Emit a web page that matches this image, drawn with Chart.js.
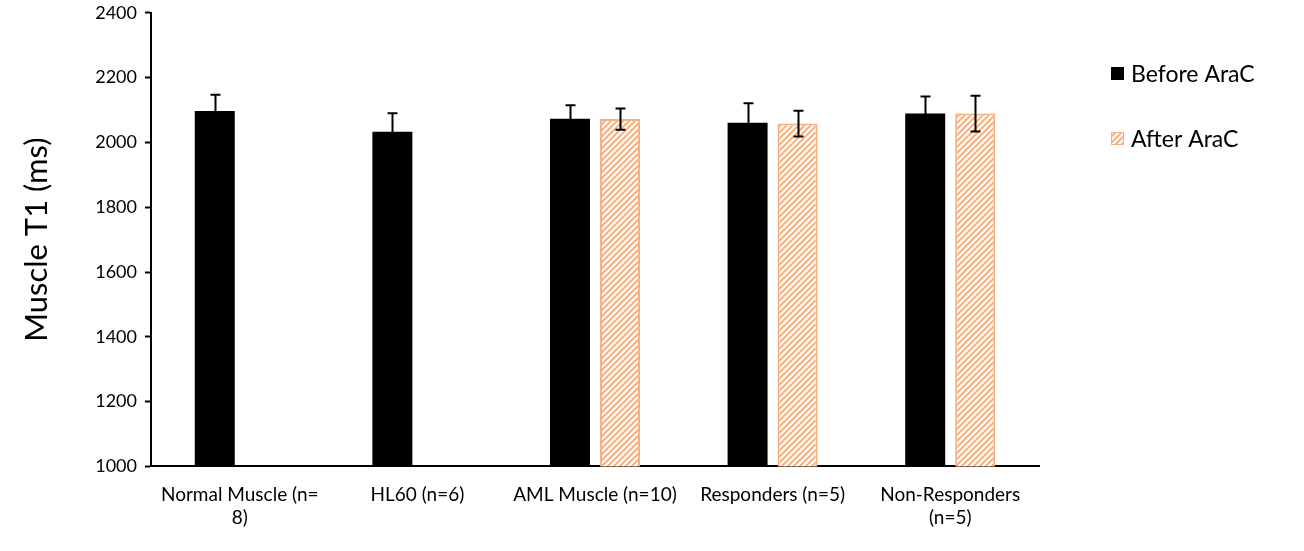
<!DOCTYPE html>
<html>
<head>
<meta charset="utf-8">
<script src="https://cdn.jsdelivr.net/npm/chart.js@4"></script>
<style>
  html, body { margin: 0; padding: 0; background: #fff; overflow: hidden; }
  #wrap { position: relative; top: -6px; width: 1304px; height: 557px; }
</style>
</head>
<body>
<div id="wrap"><canvas id="chart"></canvas></div>
<script>
// Chart data
const categories = [
  ['Normal Muscle (n=', '8)'],
  'HL60 (n=6)',
  'AML Muscle (n=10)',
  'Responders (n=5)',
  ['Non-Responders', '(n=5)']
];
const seriesNames = ['Before AraC', 'After AraC'];
const beforeValues = [2097, 2033, 2073, 2061, 2089];
const beforeErrors = [50, 57, 42, 60, 53];
const afterValues = [null, null, 2072, 2058, 2089];
const afterErrors = [null, null, 33, 40, 55];
const yTicks = [1000, 1200, 1400, 1600, 1800, 2000, 2200, 2400];

const FONT = 'Lato, "Open Sans", sans-serif';
const ORANGE = '#F4B183';

/**
 * Diagonal hatch pattern for the "after" bars
 */
function makeHatch() {
  const c = document.createElement('canvas');
  c.width = 6;
  c.height = 6;
  const g = c.getContext('2d');
  g.fillStyle = '#fff';
  g.fillRect(0, 0, 6, 6);
  g.strokeStyle = ORANGE;
  g.lineWidth = 2;
  g.beginPath();
  g.moveTo(-1, 7); g.lineTo(7, -1);
  g.moveTo(-4, 4); g.lineTo(4, -4);
  g.moveTo(2, 10); g.lineTo(10, 2);
  g.stroke();
  return g.createPattern(c, 'repeat');
}

const hatch = makeHatch();

// Draws error bars from the arrays above
const errorBarPlugin = {
  id: 'errorBars',
  afterDatasetsDraw(chart) {
    const ctx = chart.ctx;
    const y = chart.scales.y;
    const errs = [beforeErrors, afterErrors];
    ctx.save();
    ctx.strokeStyle = '#000';
    ctx.lineWidth = 2;
    chart.data.datasets.forEach((ds, i) => {
      const meta = chart.getDatasetMeta(i);
      meta.data.forEach((bar, j) => {
        const v = ds.data[j];
        const e = errs[i][j];
        if (v == null || e == null) return;
        const x = Math.round(bar.x) + 0.5;
        const top = y.getPixelForValue(v + e);
        const bot = y.getPixelForValue(v - e);
        ctx.beginPath();
        ctx.moveTo(x, top); ctx.lineTo(x, bot);
        ctx.moveTo(x - 5, top); ctx.lineTo(x + 5, top);
        ctx.moveTo(x - 5, bot); ctx.lineTo(x + 5, bot);
        ctx.stroke();
      });
    });
    ctx.restore();
  }
};

// Simple legend to the right of the plot, spaced like the original
const sideLegendPlugin = {
  id: 'sideLegend',
  afterDraw(chart) {
    const ctx = chart.ctx;
    const x0 = chart.chartArea.right + 72;
    const rows = [80, 145];
    ctx.save();
    ctx.font = '23px ' + FONT;
    ctx.textBaseline = 'middle';
    ctx.fillStyle = '#000';
    seriesNames.forEach((name, i) => {
      const yc = rows[i];
      if (i === 0) {
        ctx.fillStyle = '#000';
        ctx.fillRect(x0, yc - 7, 13, 13);
      } else {
        ctx.fillStyle = hatch;
        ctx.fillRect(x0, yc - 7, 13, 13);
        ctx.strokeStyle = ORANGE;
        ctx.lineWidth = 1;
        ctx.strokeRect(x0 + 0.5, yc - 6.5, 12, 12);
      }
      ctx.fillStyle = '#000';
      ctx.fillText(name, x0 + 20, yc + 1);
    });
    ctx.restore();
  }
};

new Chart(document.getElementById('chart').getContext('2d'), {
  type: 'bar',
  data: {
    labels: categories,
    datasets: [{
      label: seriesNames[0],
      data: beforeValues,
      backgroundColor: '#000',
      borderWidth: 0,
      categoryPercentage: 0.563,
      barPercentage: 0.8
    }, {
      label: seriesNames[1],
      data: afterValues,
      backgroundColor: hatch,
      borderColor: ORANGE,
      borderWidth: 2,
      categoryPercentage: 0.563,
      barPercentage: 0.8
    }]
  },
  options: {
    responsive: true,
    maintainAspectRatio: false,
    animation: false,
    layout: {
      padding: { top: 0, left: 14, right: 265, bottom: 5 }
    },
    plugins: {
      tooltip: { enabled: false },
      legend: { display: false }
    },
    scales: {
      x: {
        grid: { display: false, drawTicks: false },
        border: { color: '#000', width: 2 },
        ticks: {
          color: '#000',
          font: { family: FONT, size: 19 },
          padding: 17,
          maxRotation: 0,
          autoSkip: false
        }
      },
      y: {
        min: 1000,
        max: 2400,
        afterBuildTicks(axis) {
          axis.ticks = yTicks.map(v => ({ value: v }));
        },
        grid: {
          drawOnChartArea: false,
          drawTicks: true,
          tickLength: 6,
          tickColor: '#000',
          tickWidth: 2
        },
        border: { color: '#000', width: 2 },
        ticks: {
          color: '#000',
          font: { family: FONT, size: 18 },
          padding: 8,
          callback: (v) => String(v)
        },
        title: {
          display: true,
          text: 'Muscle T1 (ms)',
          color: '#000',
          font: { family: FONT, size: 31 },
          padding: { bottom: 32 }
        }
      }
    }
  },
  plugins: [errorBarPlugin, sideLegendPlugin]
});
</script>
</body>
</html>
